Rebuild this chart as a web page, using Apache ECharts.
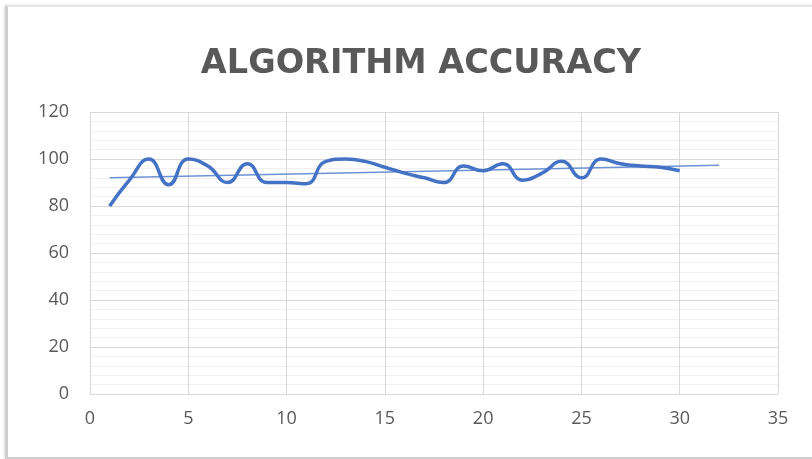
<!DOCTYPE html>
<html>
<head>
<meta charset="utf-8">
<script src="https://cdn.jsdelivr.net/npm/echarts@6/dist/echarts.min.js"></script>
<style>
  html, body { margin: 0; padding: 0; background: #fff; }
  .frame {
    position: absolute; left: 5px; top: 5px; width: 820px; height: 450px;
    border-top: 2px solid #e6e6e6; border-left: 3px solid #d0d0d0; border-bottom: 2px solid #cfcfcf;
    box-shadow: -1px 0 2px rgba(0,0,0,0.12);
  }
  #main { position: absolute; left: 0; top: 0; width: 812px; height: 459px; }
</style>
</head>
<body>
<div class="frame"></div>
<div id="main"></div>
<script>
// accuracy, one point per run 1..30
var runs = [1,2,3,4,5,6,7,8,9,10,11,12,13,14,15,16,17,18,19,20,21,22,23,24,25,26,27,28,29,30];
var accuracy = [80,91,100,89,100,97,90,98,90,90,89.5,99,100,99,96.5,94,92,90,97,95,98,91,94,99,92,100,98,97,96.5,95];
// linear trendline ends as drawn in the reference
var trendX = [1, 32];
var trendY = [92, 97.3];

var chart = echarts.init(document.getElementById('main'));
var labelColor = '#595959';

chart.setOption({
  animation: false,
  title: {
    text: 'ALGORITHM ACCURACY',
    left: 416,
    textAlign: 'center',
    top: 42,
    textStyle: {
      color: labelColor,
      fontFamily: 'DejaVu Sans',
      fontWeight: 'bold',
      fontSize: 33.5
    }
  },
  grid: { left: 90, right: 34, top: 112, bottom: 65 },
  xAxis: {
    type: 'value',
    min: 0, max: 35, interval: 5,
    axisLine: { show: false },
    axisTick: { show: false },
    axisLabel: { color: labelColor, fontSize: 18, fontFamily: 'Open Sans', margin: 16 },
    splitLine: { show: true, lineStyle: { color: '#d9d9d9', width: 1 } }
  },
  yAxis: {
    type: 'value',
    min: 0, max: 120, interval: 20,
    axisLine: { show: false },
    axisTick: { show: false },
    axisLabel: { color: labelColor, fontSize: 18, fontFamily: 'Open Sans', margin: 21 },
    splitLine: { show: true, lineStyle: { color: '#d9d9d9', width: 1 } },
    minorTick: { show: false, splitNumber: 5 },
    minorSplitLine: { show: true, lineStyle: { color: '#f0f0f0', width: 1 } }
  },
  series: [
    {
      name: 'Trend',
      type: 'line',
      data: trendX.map(function (x, i) { return [x, trendY[i]]; }),
      symbol: 'none',
      lineStyle: { color: '#6d91d4', width: 1.5 },
      z: 3
    },
    {
      name: 'Accuracy',
      type: 'line',
      data: runs.map(function (x, i) { return [x, accuracy[i]]; }),
      smooth: 0.5,
      symbol: 'none',
      lineStyle: { color: '#4472c4', width: 3.5 },
      z: 4
    }
  ]
});
</script>
</body>
</html>
